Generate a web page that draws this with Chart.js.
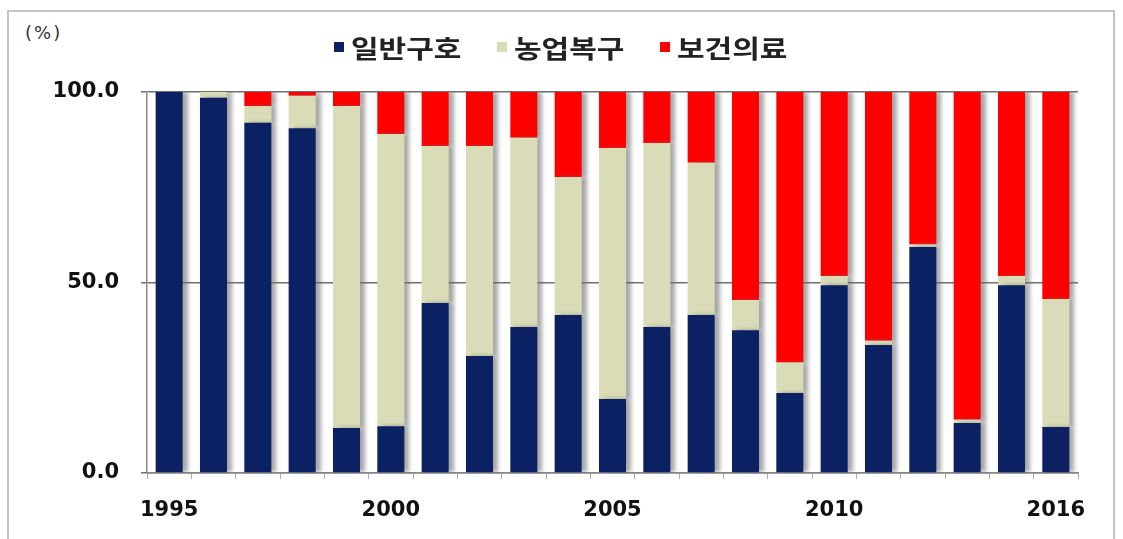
<!DOCTYPE html>
<html>
<head>
<meta charset="utf-8">
<script src="https://cdn.jsdelivr.net/npm/chart.js@4"></script>
<style>
  html, body { margin: 0; padding: 0; background: #fff; }
  #wrap { position: relative; width: 1123px; height: 539px; }
  #frame { position: absolute; left: 7px; top: 10px; width: 1108px; height: 535px; border: 2px solid #c4c4c4; box-sizing: border-box; }
  #unit { position: absolute; left: 25px; top: 22px; font: 18px "DejaVu Sans", sans-serif; letter-spacing: 2px; color: #333; }
  #legend { position: absolute; left: 0; top: 30px; width: 1123px; padding-left: 8px; box-sizing: border-box;
            display: flex; justify-content: center; align-items: center; z-index: 2; }
  .item { display: flex; align-items: center; margin: 0 13px; }
  .box { width: 10px; height: 10px; margin-right: 7px; }
  .txt { display: inline-block; width: 120px; font: bold 25px "Noto Sans CJK KR", sans-serif; color: #222;
         transform: scaleX(1.2); transform-origin: left center; white-space: nowrap; line-height: 34px; }
  canvas { position: absolute; left: 0; top: 0; }
</style>
</head>
<body>
<div id="wrap">
  <div id="frame"></div>
  <div id="unit">(%)</div>
  <div id="legend"></div>
  <canvas id="bar-chartcanvas" width="1123" height="539"></canvas>
</div>
<script>
// years (2015 is not in the source chart)
var years = ["1995","1996","1997","1998","1999","2000","2001","2002","2003","2004",
             "2005","2006","2007","2008","2009","2010","2011","2012","2013","2014","2016"];
var shownYears = ["1995","2000","2005","2010","2016"];
var yTicks = [0, 50, 100];

// shares, %
var general = [100, 98.5, 91.9, 90.5, 11.8, 12.3, 44.6, 30.7, 38.3, 41.5,
               19.4, 38.3, 41.5, 37.5, 21.0, 49.3, 33.6, 59.3, 13.1, 49.3, 12.1];
var farming = [0, 1.5, 4.4, 8.5, 84.5, 76.7, 41.2, 55.1, 49.7, 36.2,
               65.9, 48.3, 39.9, 7.9, 8.0, 2.4, 1.1, 0.7, 0.9, 2.4, 33.6];
var health  = [0, 0, 3.7, 1.0, 3.7, 11.0, 14.2, 14.2, 12.0, 22.3,
               14.7, 13.4, 18.6, 54.6, 71.0, 48.3, 65.3, 40.0, 86.0, 48.3, 54.3];

var numFont = "'DejaVu Sans', sans-serif";

//soft grey shadow to the right of each bar
var barShadow = {
  id: "barShadow",
  beforeDatasetsDraw: function(chart) {
    var ctx = chart.ctx;
    ctx.save();
    ctx.shadowColor = "rgba(110,110,110,0.6)";
    ctx.shadowOffsetX = 5;
    ctx.shadowOffsetY = 0;
    ctx.shadowBlur = 4;
  },
  afterDatasetsDraw: function(chart) {
    chart.ctx.restore();
  }
};

var ctx = document.getElementById("bar-chartcanvas");

var data = {
  labels : years,
  datasets : [
    { label : "일반구호", data : general, backgroundColor : "#0b2163", barPercentage : 0.61, categoryPercentage : 1 },
    { label : "농업복구", data : farming, backgroundColor : "#d9dcb7", barPercentage : 0.61, categoryPercentage : 1 },
    { label : "보건의료", data : health,  backgroundColor : "#ff0000", barPercentage : 0.61, categoryPercentage : 1 }
  ]
};

var options = {
  responsive : false,
  animation : false,
  layout : { padding : { left : 0, right : 45, top : 92, bottom : 0 } },
  plugins : {
    tooltip : { enabled : false },
    legend : { display : false }
  },
  scales : {
    x : {
      stacked : true,
      grid : { display : true, drawOnChartArea : false, drawTicks : true, tickLength : 6, color : "#aaa" },
      border : { display : true, color : "#888", width : 1.5 },
      ticks : {
        autoSkip : false,
        maxRotation : 0,
        padding : 21,
        color : "#111",
        font : { family : numFont, size : 21, weight : "bold", lineHeight : 1 },
        callback : function(v, i) {
          var y = years[i];
          return shownYears.indexOf(y) >= 0 ? y : "";
        }
      },
      afterFit : function(scale) { scale.height = 66; }
    },
    y : {
      stacked : true,
      min : 0,
      max : 100,
      afterBuildTicks : function(scale) {
        scale.ticks = yTicks.map(function(v) { return { value : v }; });
      },
      afterFit : function(scale) { scale.width = 147; },
      grid : { color : "#6f6f6f", lineWidth : 1.5, drawTicks : true, tickLength : 6 },
      border : { display : true, color : "#888", width : 1.5 },
      ticks : {
        padding : 22,
        color : "#111",
        font : { family : numFont, size : 21, weight : "bold" },
        callback : function(v) { return Number(v).toFixed(1); }
      }
    }
  }
};

var chart = new Chart(ctx, {
  type : "bar",
  data : data,
  options : options,
  plugins : [barShadow]
});

// legend as html, from the datasets
var legendBox = document.getElementById("legend");
chart.data.datasets.forEach(function(ds) {
  var item = document.createElement("div");
  item.className = "item";
  var box = document.createElement("span");
  box.className = "box";
  box.style.background = ds.backgroundColor;
  var txt = document.createElement("span");
  txt.className = "txt";
  txt.textContent = ds.label;
  item.appendChild(box);
  item.appendChild(txt);
  legendBox.appendChild(item);
});
</script>
</body>
</html>
